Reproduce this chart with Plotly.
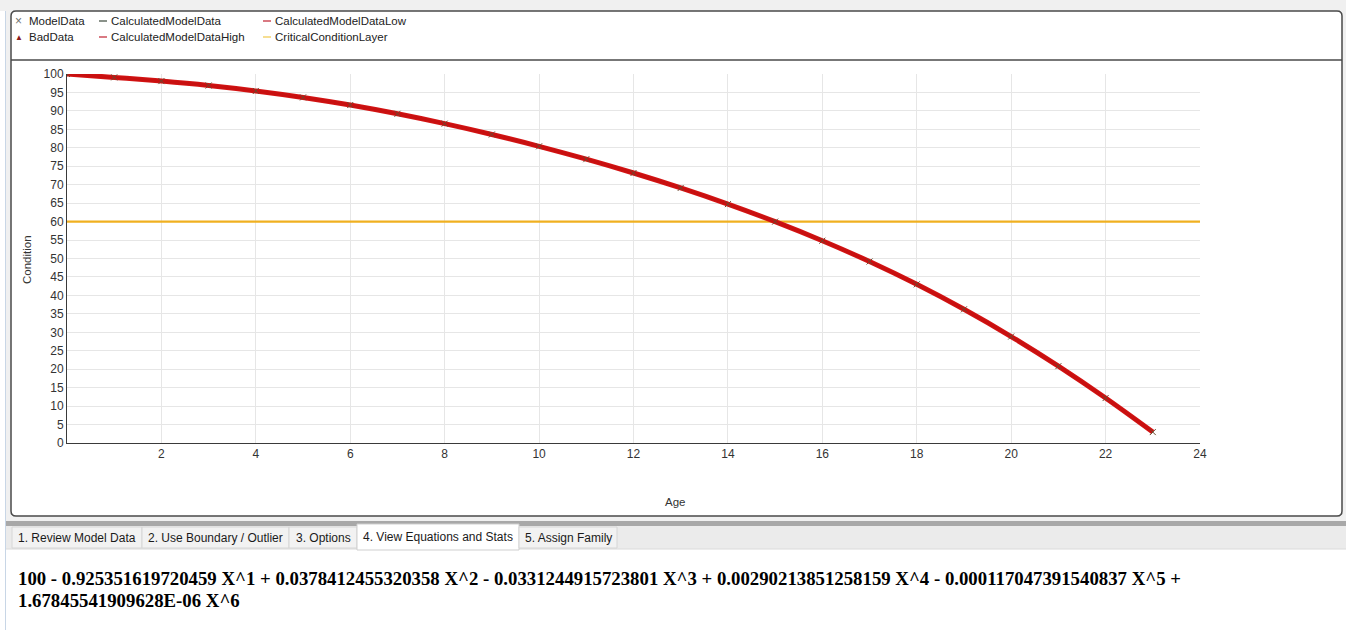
import plotly.graph_objects as go

# ---------------- data ----------------
ages = list(range(0, 24))
model_condition = [100, 99.08, 98.08, 96.88, 95.41, 93.65, 91.59, 89.21, 86.55, 83.61,
                   80.40, 76.92, 73.17, 69.12, 64.74, 59.99, 54.82, 49.18, 43.00, 36.23,
                   28.85, 20.82, 12.18, 2.96]
calc_condition = [100, 99.08, 98.08, 96.88, 95.41, 93.65, 91.59, 89.21, 86.55, 83.61,
                  80.40, 76.92, 73.17, 69.12, 64.74, 59.99, 54.82, 49.18, 43.00, 36.23,
                  28.85, 20.82, 12.18, 2.96]
calc_high = [100, 99.08, 98.08, 96.88, 95.41, 93.65, 91.59, 89.21, 86.55, 83.61,
             80.40, 76.92, 73.17, 69.12, 64.74, 59.99, 54.82, 49.18, 43.00, 36.23,
             28.85, 20.82, 12.18, 2.96]
calc_low = [100, 99.08, 98.08, 96.88, 95.41, 93.65, 91.59, 89.21, 86.55, 83.61,
            80.40, 76.92, 73.17, 69.12, 64.74, 59.99, 54.82, 49.18, 43.00, 36.23,
            28.85, 20.82, 12.18, 2.96]
critical_age = [0, 24]
critical_condition = [60, 60]
x_ticks = [2, 4, 6, 8, 10, 12, 14, 16, 18, 20, 22, 24]

legend_names = [["ModelData", "CalculatedModelData", "CalculatedModelDataLow"],
                ["BadData", "CalculatedModelDataHigh", "CriticalConditionLayer"]]
tab_labels = ["1. Review Model Data", "2. Use Boundary / Outlier", "3. Options",
              "4. View Equations and Stats", "5. Assign Family"]
equation_lines = [
    "100 - 0.925351619720459 X^1 + 0.0378412455320358 X^2 - 0.0331244915723801 X^3 + "
    "0.00290213851258159 X^4 - 0.000117047391540837 X^5 +",
    "1.67845541909628E-06 X^6",
]

# ---------------- geometry helpers (pixel -> paper) ----------------
W, H = 1346, 630
PL, PR, PT, PB = 67, 1200, 74, 443


def px(x):
    return (x - PL) / (PR - PL)


def py(y):
    return (PB - y) / (PB - PT)


def rect(x0, y0, x1, y1, fill=None, line=None, lw=1, layer="below"):
    d = dict(type="rect", xref="paper", yref="paper", x0=px(x0), x1=px(x1),
             y0=py(y1), y1=py(y0), layer=layer,
             line=dict(width=lw if line else 0, color=line or "rgba(0,0,0,0)"))
    if fill:
        d["fillcolor"] = fill
    return d


def hline(x0, x1, y, color, lw=1, layer="above"):
    return dict(type="line", xref="paper", yref="paper", x0=px(x0), x1=px(x1),
                y0=py(y), y1=py(y), line=dict(color=color, width=lw), layer=layer)


def vline(x, y0, y1, color, lw=1, layer="above"):
    return dict(type="line", xref="paper", yref="paper", x0=px(x), x1=px(x),
                y0=py(y0), y1=py(y1), line=dict(color=color, width=lw), layer=layer)


def rounded_path(x0, y0, x1, y1, r):
    pts = [
        ("M", [(x0 + r, y0)]), ("L", [(x1 - r, y0)]), ("Q", [(x1, y0), (x1, y0 + r)]),
        ("L", [(x1, y1 - r)]), ("Q", [(x1, y1), (x1 - r, y1)]),
        ("L", [(x0 + r, y1)]), ("Q", [(x0, y1), (x0, y1 - r)]),
        ("L", [(x0, y0 + r)]), ("Q", [(x0, y0), (x0 + r, y0)]),
    ]
    s = ""
    for cmd, pp in pts:
        s += cmd + " " + " ".join(f"{px(a):.6f},{py(b):.6f}" for a, b in pp) + " "
    return s + "Z"


UI_FONT = "Liberation Sans, Arial, sans-serif"

fig = go.Figure()

fig.add_trace(go.Scatter(x=critical_age, y=critical_condition, mode="lines",
                         name="CriticalConditionLayer",
                         line=dict(color="#f0b020", width=2.2), showlegend=False))
fig.add_trace(go.Scatter(x=ages, y=calc_condition, mode="lines", name="CalculatedModelData",
                         line=dict(color="#3a3a3a", width=1, shape="spline"), showlegend=False))
fig.add_trace(go.Scatter(x=ages, y=calc_low, mode="lines", name="CalculatedModelDataLow",
                         line=dict(color="#d41414", width=5, shape="spline"), showlegend=False))
fig.add_trace(go.Scatter(x=ages, y=calc_high, mode="lines", name="CalculatedModelDataHigh",
                         line=dict(color="#c81010", width=3, shape="spline"), showlegend=False))
fig.add_trace(go.Scatter(x=[], y=[], mode="markers", name="BadData",
                         marker=dict(symbol="triangle-up", color="#8b1a1a", size=6),
                         showlegend=False))
fig.add_trace(go.Scatter(x=ages, y=model_condition, mode="markers", name="ModelData",
                         marker=dict(symbol="x-thin", size=6,
                                     line=dict(color="#6a4a30", width=1)),
                         showlegend=False))

shapes = []
# outer chrome backgrounds
shapes.append(rect(0, 0, W, 11, fill="#f0f0f0"))
shapes.append(rect(0, 0, 11, 521, fill="#f0f0f0"))
shapes.append(rect(0, 11, 5, 630, fill="#ffffff"))
shapes.append(vline(5.5, 11, 630, "#c8d6e6", 1, layer="below"))
shapes.append(rect(1342, 0, W, 521, fill="#f0f0f0"))
shapes.append(rect(6, 516, W, 521, fill="#f0f0f0"))
shapes.append(rect(6, 521, W, 526, fill="#a8a8a8"))
shapes.append(rect(6, 526, W, 549, fill="#ebebeb"))
shapes.append(hline(6, W, 549, "#dadada", 1, layer="below"))
# frame with rounded corners
shapes.append(dict(type="path", xref="paper", yref="paper",
                   path=rounded_path(11, 11, 1342, 516, 5),
                   line=dict(color="#4a4a4a", width=1.5), layer="below"))
shapes.append(hline(11, 1342, 60, "#4a4a4a", 1.5))

# tabs
tab_edges = [12, 142, 289, 357, 519, 617]
for i, lab in enumerate(tab_labels):
    x0, x1 = tab_edges[i], tab_edges[i + 1]
    if i == 3:
        shapes.append(rect(x0, 524, x1, 550, fill="#ffffff", line="#cfcfcf", layer="above"))
    else:
        shapes.append(rect(x0, 527, x1, 548, fill="#f2f2f2", line="#d6d6d6", layer="above"))

# legend line symbols
legend_row_y = [21, 37]
legend_col_x = [16, 99, 263]
line_cols = {"CalculatedModelData": "#3c4a3c", "CalculatedModelDataLow": "#c02030",
             "CalculatedModelDataHigh": "#c02030", "CriticalConditionLayer": "#f0c848"}

annotations = []
for r, row in enumerate(legend_names):
    for c, name in enumerate(row):
        yy = legend_row_y[r]
        xx = legend_col_x[c]
        if name in line_cols:
            shapes.append(hline(xx, xx + 8, yy, line_cols[name], 1.2))
            tx = xx + 10
        else:
            sym = "×" if name == "ModelData" else "▲"
            col = "#707070" if name == "ModelData" else "#8b1a1a"
            annotations.append(dict(xref="paper", yref="paper", x=px(xx + 3), y=py(yy),
                                    text=sym, showarrow=False, xanchor="center",
                                    yanchor="middle",
                                    font=dict(family=UI_FONT, size=12 if sym == "×" else 8,
                                              color=col)))
            tx = xx + 11
        annotations.append(dict(xref="paper", yref="paper", x=px(tx), y=py(yy), text=name,
                                showarrow=False, xanchor="left", yanchor="middle",
                                font=dict(family=UI_FONT, size=11.5, color="#222222")))

# tab labels
for i, lab in enumerate(tab_labels):
    x0, x1 = tab_edges[i], tab_edges[i + 1]
    annotations.append(dict(xref="paper", yref="paper", x=px((x0 + x1) / 2),
                            y=py(537 if i == 3 else 538), text=lab, showarrow=False,
                            xanchor="center", yanchor="middle",
                            font=dict(family=UI_FONT, size=12, color="#1a1a1a")))

# axis titles
annotations.append(dict(xref="paper", yref="paper", x=px(675), y=py(502), text="Age",
                        showarrow=False, xanchor="center", yanchor="middle",
                        font=dict(family=UI_FONT, size=11.5, color="#333333")))
annotations.append(dict(xref="paper", yref="paper", x=px(27), y=py(260), text="Condition",
                        showarrow=False, xanchor="center", yanchor="middle", textangle=-90,
                        font=dict(family=UI_FONT, size=11.5, color="#333333")))

# equation
for k, line in enumerate(equation_lines):
    annotations.append(dict(xref="paper", yref="paper", x=px(16), y=py(578 + 22 * k),
                            text=line, showarrow=False, xanchor="left", yanchor="middle",
                            font=dict(family="Liberation Serif, Times New Roman, serif",
                                      size=18.8, color="#000000", weight="bold")))

fig.update_layout(
    width=W, height=H,
    margin=dict(l=PL, r=W - PR, t=PT, b=H - PB, pad=0),
    paper_bgcolor="#ffffff", plot_bgcolor="#ffffff",
    showlegend=False,
    shapes=shapes, annotations=annotations,
    xaxis=dict(range=[0, 24], tickvals=x_ticks, showgrid=True, gridcolor="#e6e6e6",
               gridwidth=1, zeroline=False, showline=True, linecolor="#3a3a3a",
               linewidth=1, ticks="", tickfont=dict(family=UI_FONT, size=12, color="#333333"),
               fixedrange=True),
    yaxis=dict(range=[0, 100], dtick=5, tick0=0, showgrid=True, gridcolor="#e6e6e6",
               gridwidth=1, zeroline=False, showline=True, linecolor="#3a3a3a",
               linewidth=1, ticks="", tickfont=dict(family=UI_FONT, size=12, color="#333333"),
               fixedrange=True),
)

fig.write_html("out.html", config=dict(displayModeBar=False),
               post_script="document.body.style.margin='0';document.body.style.overflow='hidden';")
